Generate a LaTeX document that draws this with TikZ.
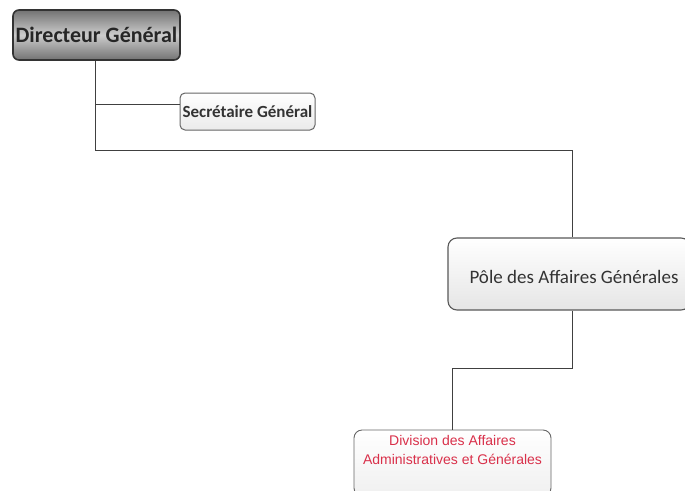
\documentclass[tikz,border=0pt]{standalone}
\usepackage{fontspec}
\setmainfont{Carlito}
\newfontfamily\arialfont{Liberation Sans}
\definecolor{divred}{HTML}{D9304A}
\definecolor{linegray}{HTML}{404040}
\begin{document}
\begin{tikzpicture}[x=1pt,y=-1pt,
  conn/.style={draw=linegray,line width=0.9pt},
  dgbox/.style={draw=black!80,line width=1.6pt,rounded corners=6pt,
     top color=black!55,bottom color=black!55,middle color=black!20,
     minimum width=167pt,minimum height=50pt,inner sep=0pt,
     font=\fontsize{22}{24}\selectfont\bfseries,text=black!85},
  sgbox/.style={draw=black!60,line width=1pt,rounded corners=5pt,
     top color=white,bottom color=black!8,
     minimum width=135pt,minimum height=37pt,inner sep=0pt,
     font=\fontsize{17}{19}\selectfont\bfseries,text=black!80},
  polebox/.style={draw=black!65,line width=1.1pt,rounded corners=9pt,
     top color=white,bottom color=black!10,
     minimum width=242pt,minimum height=72pt,inner sep=0pt},
  divbox/.style={draw=black!60,line width=0.9pt,rounded corners=8pt,
     top color=white,bottom color=black!6,
     minimum width=197pt,minimum height=66pt,inner sep=0pt},
  divtext/.style={font=\arialfont\fontsize{14}{19}\selectfont,text=divred,align=center,inner sep=0pt},
  poletext/.style={font=\fontsize{19}{21}\selectfont,text=black!80}]
\useasboundingbox (0,0) rectangle (685,490);
\clip (0,0) rectangle (685,490);
\fill[white] (0,0) rectangle (685,490);
% nodes
\node[dgbox] (dg) at (96.5,35) {Directeur Général};
\node[sgbox] (sg) at (247.5,111.5) {Secrétaire Général};
\node[polebox] (pole) at (569,274) {};
\node[poletext] (poletxt) at (574,277) {Pôle des Affaires Générales};
\node[divbox] (div) at (452.5,463) {};
\node[divtext,anchor=north] (divtxt) at (452.5,435) {Division des Affaires\\Administratives et Générales};
% coordinates
\coordinate (b1) at (95,104);
\coordinate (b2) at (95,150);
\coordinate (b3) at (572,150);
\coordinate (b4) at (572,368);
\coordinate (b5) at (452,368);
% connectors
\draw[conn] (dg.south -| b1) -- (b2) -- (b3) -- (pole.north -| b3);
\draw[conn] (b1) -- (b1 -| sg.west);
\draw[conn] (pole.south -| b4) -- (b4) -- (b5) -- (div.north -| b5);
\end{tikzpicture}
\end{document}
